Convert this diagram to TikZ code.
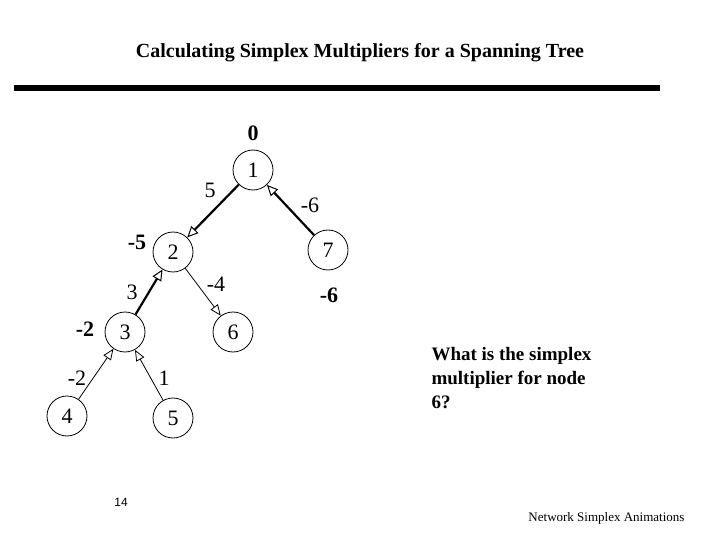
\documentclass[tikz,border=0pt]{standalone}
\usepackage{fontspec}
\setmainfont{Liberation Serif}
\setsansfont{Liberation Sans}
\usetikzlibrary{arrows.meta}
\begin{document}
\begin{tikzpicture}[x=1pt,y=-1pt,
  nd/.style={circle,draw,line width=0.8pt,minimum size=40pt,inner sep=0pt,font=\fontsize{22}{24}\selectfont},
  thk/.style={line width=2.2pt,-{Triangle[open,length=11pt,width=10pt,line width=1pt]}},
  thn/.style={line width=0.8pt,-{Triangle[open,length=11pt,width=9pt,line width=0.8pt]}},
  lb/.style={font=\fontsize{22}{24}\selectfont},
  bl/.style={font=\fontsize{22}{24}\selectfont\bfseries}]
\useasboundingbox (0,0) rectangle (720,540);
\node (title) at (360,53) {\fontsize{20}{24}\selectfont\bfseries Calculating Simplex Multipliers for a Spanning Tree};
\coordinate (la) at (14,88); \coordinate (lb) at (660,88);
\draw[line width=6pt] (la) -- (lb);
\node[nd] (n1) at (253,170) {1};
\node[nd] (n2) at (173,252) {2};
\node[nd] (n7) at (328,250) {7};
\node[nd] (n3) at (125,332) {3};
\node[nd] (n6) at (233,332) {6};
\node[nd] (n4) at (67,416) {4};
\node[nd] (n5) at (173,418) {5};
\draw[thk] (n1) -- (n2);
\draw[thk] (n7) -- (n1);
\draw[thk] (n3) -- (n2);
\draw[thn] (n2) -- (n6);
\draw[thn] (n4) -- (n3);
\draw[thn] (n5) -- (n3);
\node[lb] (e12) at (210,190) {5};
\node[lb] (e71) at (310,205) {-6};
\node[lb] (e32) at (132,292) {3};
\node[lb] (e26) at (216,284) {-4};
\node[lb] (e43) at (77,378) {-2};
\node[lb] (e53) at (164,378) {1};
\node[bl] (p1) at (253,133) {0};
\node[bl] (p2) at (137,242) {-5};
\node[bl] (p7) at (329,295) {-6};
\node[bl] (p3) at (85,329) {-2};
\node[align=left,anchor=north west,font=\fontsize{19}{24}\selectfont\bfseries] (q) at (428,344) {What is the simplex\\multiplier for node\\6?};
\node[font=\sffamily\fontsize{12}{14}\selectfont] (pg) at (121,502) {14};
\node[font=\fontsize{13}{15}\selectfont,anchor=east] (ft) at (688,518) {Network Simplex Animations};
\end{tikzpicture}
\end{document}
